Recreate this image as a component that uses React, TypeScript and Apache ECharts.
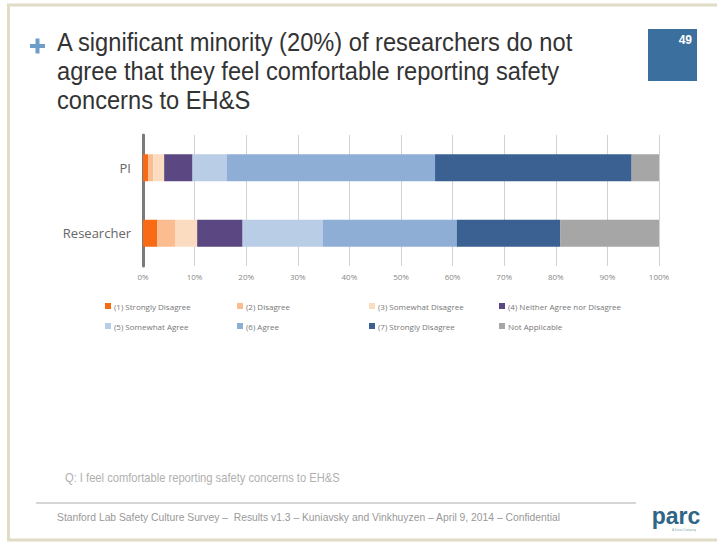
import React, { useEffect, useRef } from "react";
import * as echarts from "echarts";

const categories = ["PI", "Researcher"];
const seriesNames = [
  "(1) Strongly Disagree",
  "(2) Disagree",
  "(3) Somewhat Disagree",
  "(4) Neither Agree nor Disagree",
  "(5) Somewhat Agree",
  "(6) Agree",
  "(7) Strongly Disagree",
  "Not Applicable",
];
const piValues = [1.0, 1.0, 2.1, 5.5, 6.6, 40.4, 38.1, 5.3];
const researcherValues = [2.8, 3.4, 4.3, 8.8, 15.5, 26.0, 20.1, 19.1];
const colors = ["#f96a14", "#fbbd90", "#fcdcc0", "#5b4781", "#b9cde6", "#8faed6", "#3a6192", "#a6a6a6"];
const legendX = [100, 232, 364, 494];
const legendY = [297, 317];

export default function App() {
  const ref = useRef<HTMLDivElement>(null);
  useEffect(() => {
    if (!ref.current) return;
    const chart = echarts.init(ref.current, null, { renderer: "svg" });
    const sans = "'Liberation Sans', Arial, sans-serif";
    const chartFont = "'Open Sans', 'Noto Sans', sans-serif";
    const legends = seriesNames.map((name, i) => ({
      data: [name],
      left: legendX[i % 4],
      top: legendY[Math.floor(i / 4)],
      icon: "rect",
      itemWidth: 6,
      itemHeight: 6,
      itemGap: 4,
      selectedMode: false,
      textStyle: { fontSize: 8, color: "#777", fontFamily: chartFont, padding: [0, 0, 0, -2] },
    }));
    const titleText = (text: string, y: number) => ({
      type: "text",
      x: 57,
      y,
      scaleX: 0.91,
      style: { text, font: `26px ${sans}`, fill: "#333", verticalAlign: "middle" },
    });
    chart.setOption({
      animation: false,
      backgroundColor: "#ffffff",
      legend: legends,
      grid: { left: 143, right: 58, top: 135, bottom: 278 },
      xAxis: {
        type: "value",
        min: 0,
        max: 100,
        interval: 10,
        axisLine: { show: false },
        axisTick: { show: false },
        splitLine: { lineStyle: { color: "#d2d2d2", width: 1 } },
        axisLabel: { formatter: "{value}%", fontSize: 8, color: "#888", fontFamily: chartFont, margin: 6 },
      },
      yAxis: {
        type: "category",
        data: categories,
        inverse: true,
        axisLine: { show: true, lineStyle: { color: "#7a7a7a", width: 3 } },
        axisTick: { show: false },
        axisLabel: { fontSize: 13, color: "#666", fontFamily: chartFont, margin: 12 },
      },
      series: seriesNames.map((name, i) => ({
        name,
        type: "bar",
        stack: "total",
        barWidth: 27,
        itemStyle: { color: colors[i] },
        data: [piValues[i], researcherValues[i]],
      })),
      graphic: [
        { type: "rect", shape: { x: 8.5, y: 5, width: 730, height: 535 }, style: { fill: "none", stroke: "#e0dcc6", lineWidth: 3 }, z: 100 },
        { type: "rect", shape: { x: 30, y: 44, width: 15, height: 4 }, style: { fill: "#6d9dc9" } },
        { type: "rect", shape: { x: 35.5, y: 38.5, width: 4, height: 15 }, style: { fill: "#6d9dc9" } },
        titleText("A significant minority (20%) of researchers do not", 42),
        titleText("agree that they feel comfortable reporting safety", 71),
        titleText("concerns to EH&S", 100),
        { type: "rect", shape: { x: 648, y: 29, width: 49, height: 52 }, style: { fill: "#3b6f9e" } },
        { type: "text", x: 692, y: 40, style: { text: "49", font: `bold 12px ${sans}`, fill: "#fff", align: "right", verticalAlign: "middle" } },
        { type: "text", x: 65, y: 478, scaleX: 0.93, style: { text: "Q: I feel comfortable reporting safety concerns to EH&S", font: `12px ${sans}`, fill: "#b0b0b0", verticalAlign: "middle" } },
        { type: "line", shape: { x1: 36, y1: 503, x2: 636, y2: 503 }, style: { stroke: "#c8c8c8", lineWidth: 1.5 } },
        { type: "text", x: 57, y: 517, scaleX: 0.94, style: { text: "Stanford Lab Safety Culture Survey –  Results v1.3 – Kuniavsky and Vinkhuyzen – April 9, 2014 – Confidential", font: `11px ${sans}`, fill: "#999", verticalAlign: "middle" } },
        { type: "text", x: 676, y: 516, style: { text: "parc", font: `bold 23px ${sans}`, fill: "#2f6585", align: "center", verticalAlign: "middle" } },
        { type: "text", x: 684, y: 530, style: { text: "A Xerox Company", font: `3px ${sans}`, fill: "#8aa", align: "center", verticalAlign: "middle" } },
      ],
    });
    return () => chart.dispose();
  }, []);
  return <div ref={ref} style={{ position: "fixed", left: 0, top: 0, width: 717, height: 544 }} />;
}
